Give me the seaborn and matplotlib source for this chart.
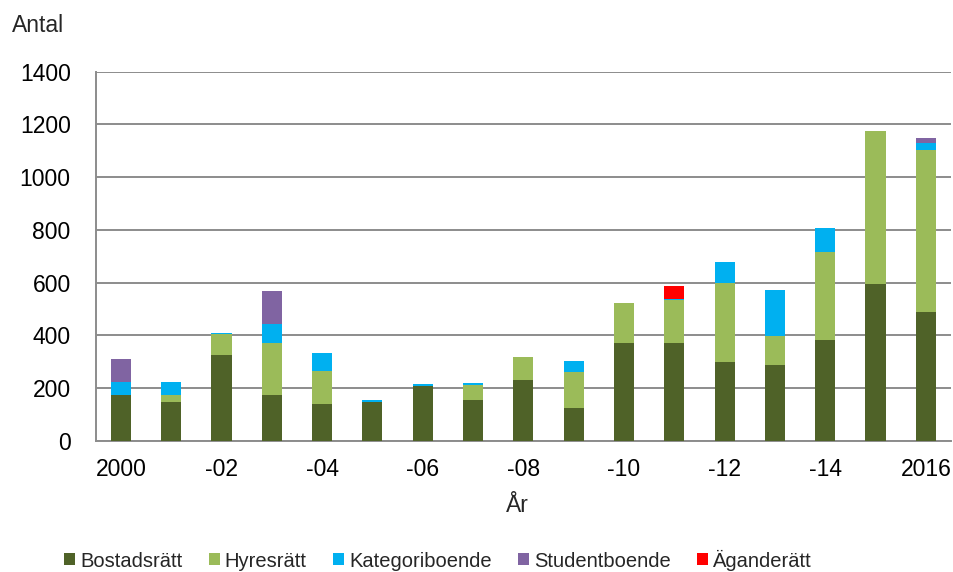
import numpy as np
import pandas as pd
import matplotlib
matplotlib.use("Agg")
import matplotlib.pyplot as plt
import seaborn as sns
from matplotlib.patches import Patch

# ---- data ----
years = ["2000", "2001", "2002", "2003", "2004", "2005", "2006", "2007", "2008",
         "2009", "2010", "2011", "2012", "2013", "2014", "2015", "2016"]
tick_labels = ["2000", "-02", "-04", "-06", "-08", "-10", "-12", "-14", "2016"]
bostadsratt = [175, 146, 326, 174, 141, 147, 210, 156, 232, 125, 372, 372, 298, 290, 384, 594, 490]
hyresratt = [0, 29, 79, 197, 124, 0, 0, 57, 87, 137, 151, 163, 301, 109, 334, 581, 612]
kategoriboende = [49, 47, 6, 74, 67, 10, 7, 6, 0, 43, 0, 5, 80, 175, 91, 0, 29]
studentboende = [86, 0, 0, 125, 0, 0, 0, 0, 0, 0, 0, 0, 0, 0, 0, 0, 18]
aganderatt = [0, 0, 0, 0, 0, 0, 0, 0, 0, 0, 0, 49, 0, 0, 0, 0, 0]

series_names = ["Bostadsrätt", "Hyresrätt", "Kategoriboende", "Studentboende", "Äganderätt"]
series_vals = [bostadsratt, hyresratt, kategoriboende, studentboende, aganderatt]
colors = ["#4F6228", "#9BBB59", "#00B0F0", "#8064A2", "#FF0000"]

sns.set_style("white")
plt.rcParams["font.family"] = ["Liberation Sans", "DejaVu Sans"]

df = pd.DataFrame({"year": years})
for n, v in zip(series_names, series_vals):
    df[n] = v
cum = df[series_names].cumsum(axis=1)

fig = plt.figure(figsize=(9.54, 5.72), dpi=100)
ax = fig.add_axes([95.7 / 954, 1 - 441 / 572, (951 - 95.7) / 954, (441 - 71.7) / 572])

gray = "#8c8c8c"
for i in reversed(range(len(series_names))):
    name = series_names[i]
    sns.barplot(x=df["year"], y=cum[name], order=years, color=colors[i],
                saturation=1, width=0.4, errorbar=None, ax=ax,
                linewidth=0, zorder=3)

ax.set_xlim(-0.5, len(years) - 0.5)
ax.set_ylim(0, 1400)
ax.set_yticks(np.arange(0, 1401, 200))
ax.yaxis.grid(True, color=gray, lw=1.4)
ax.xaxis.grid(False)
ax.set_axisbelow(True)

ax.set_xticks(np.arange(0, len(years), 2))
ax.set_xticklabels(tick_labels)
ax.set_xticks(np.arange(-0.5, len(years), 1), minor=True)
ax.tick_params(axis="x", which="major", length=0, pad=12, labelsize=16.5, colors="black")
ax.tick_params(axis="x", which="minor", length=6, width=1.4, color=gray, direction="out")
ax.tick_params(axis="y", which="major", length=8, width=1.4, color=gray, direction="out",
               pad=10, labelsize=16.5, labelcolor="black")
ax.set_xlabel("")
ax.set_ylabel("")

for s in ["top", "right"]:
    ax.spines[s].set_visible(False)
for s in ["left", "bottom"]:
    ax.spines[s].set_color(gray)
    ax.spines[s].set_linewidth(1.4)

fig.text(12 / 954, 1 - 25 / 572, "Antal", ha="left", va="center", fontsize=16.5)
fig.text(517 / 954, 1 - 505 / 572, "År", ha="center", va="center", fontsize=16.5)

handles = [Patch(facecolor=c, edgecolor="none") for c in colors]
fig.legend(handles, series_names, loc="center", bbox_to_anchor=(438 / 954, 1 - 560 / 572),
           ncol=5, frameon=False, fontsize=14.5, handlelength=0.55, handleheight=0.55,
           handletextpad=0.25, columnspacing=1.3, borderaxespad=0)

fig.savefig("out.png", dpi=100)
